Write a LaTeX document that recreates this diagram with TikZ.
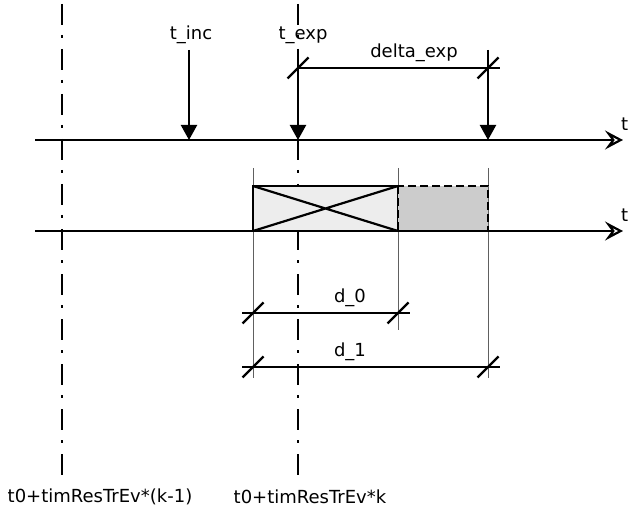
\documentclass[tikz,border=0pt]{standalone}
\usepackage{fontspec}
\setmainfont{DejaVu Sans}
\usetikzlibrary{arrows.meta,calc}
\definecolor{busygray}{HTML}{EDEDED}
\definecolor{slackgray}{HTML}{CCCCCC}
\definecolor{guidegray}{HTML}{606060}

\begin{document}
\begin{tikzpicture}[x=1pt, y=-1pt,
  every node/.style={font=\fontsize{18}{21}\selectfont, inner sep=0pt},
  timeaxis/.style={line width=2.2pt, -{Stealth[open, length=18pt, width=19pt, inset=7pt]}},
  period line/.style={line width=2.2pt, dash pattern=on 21pt off 10pt on 3pt off 11pt},
  event/.style={line width=2.2pt, -{Triangle[length=15pt, width=16pt]}},
  guide/.style={line width=1pt, guidegray},
  measure/.style={line width=2.2pt},
  tickmark/.style={line width=2.2pt}]
  \useasboundingbox (0,0) rectangle (629,513);

  % period boundaries
  \coordinate (k1 top) at (62,4);
  \coordinate (k1 bot) at (62,480);
  \coordinate (k top) at (298,4);
  \coordinate (k bot) at (298,480);
  \draw[period line] (k1 top) -- (k1 bot);
  \draw[period line] (k top) -- (k bot);
  \node (lbl k1) at (100,497) {t0+timResTrEv*(k-1)};
  \node (lbl k) at (310,497) {t0+timResTrEv*k};

  % guides
  \coordinate (g0 top) at (253,168);
  \coordinate (g0 bot) at (253,378);
  \coordinate (g1 top) at (398,168);
  \coordinate (g1 bot) at (398,330);
  \coordinate (g2 top) at (488,168);
  \coordinate (g2 bot) at (488,378);
  \draw[guide] (g0 top) -- (g0 bot);
  \draw[guide] (g1 top) -- (g1 bot);
  \draw[guide] (g2 top) -- (g2 bot);

  % execution boxes
  \draw[line width=2.2pt, fill=busygray] (253,186) rectangle (398,231);
  \draw[line width=2.2pt] (253,186) -- (398,231) (253,231) -- (398,186);
  \draw[line width=2.2pt, dashed, dash pattern=on 8pt off 4pt, fill=slackgray] (398,186) rectangle (488,231);

  % time axes
  \coordinate (ax1 start) at (35,140);
  \coordinate (ax1 end) at (623,140);
  \coordinate (ax2 start) at (35,231);
  \coordinate (ax2 end) at (623,231);
  \draw[timeaxis] (ax1 start) -- (ax1 end);
  \draw[timeaxis] (ax2 start) -- (ax2 end);
  \node[anchor=south west] (t1) at (621,131) {t};
  \node[anchor=south west] (t2) at (621,222) {t};

  % events
  \node (tinc) at (191,35) {t\_inc};
  \node (texp) at (303,35) {t\_exp};
  \coordinate (inc top) at (189,50);
  \coordinate (inc hit) at (189,140);
  \coordinate (exp top) at (298,50);
  \coordinate (exp hit) at (298,140);
  \coordinate (dl top) at (488,50);
  \coordinate (dl hit) at (488,140);
  \draw[event] (inc top) -- (inc hit);
  \draw[event] (exp top) -- (exp hit);
  \draw[event] (dl top) -- (dl hit);

  % dimensions
  \coordinate (e0) at (298,68);
  \coordinate (e1) at (488,68);
  \coordinate (a0) at (253,313);
  \coordinate (a1) at (398,313);
  \coordinate (b0) at (253,367);
  \coordinate (b1) at (488,367);
  \draw[measure] (e0) -- ($(e1)+(12,0)$);
  \draw[measure] ($(a0)+(-11,0)$) -- ($(a1)+(12,0)$);
  \draw[measure] ($(b0)+(-11,0)$) -- ($(b1)+(12,0)$);
  \foreach \p in {e0,e1,a0,a1,b0,b1}
    \draw[tickmark] ($(\p)+(-10.5,10.5)$) -- ($(\p)+(10.5,-10.5)$);
  \node (dexp) at (414,53) {delta\_exp};
  \node (d0) at (350,298) {d\_0};
  \node (d1) at (350,352) {d\_1};
\end{tikzpicture}
\end{document}
